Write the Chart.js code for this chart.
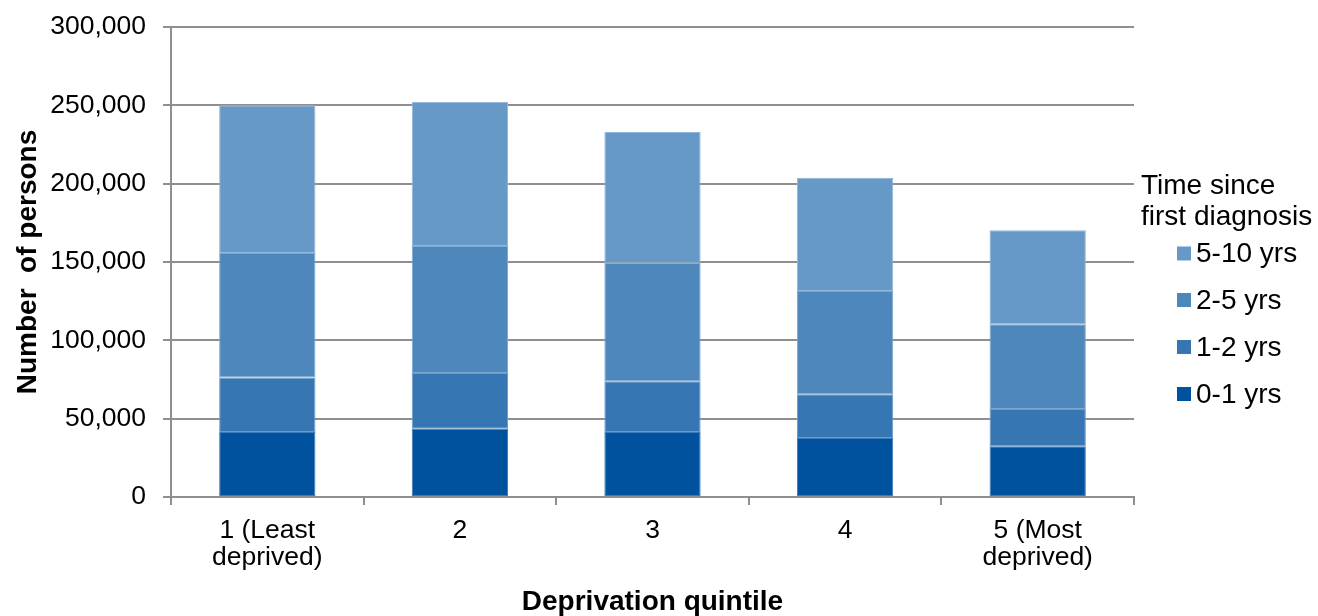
<!DOCTYPE html>
<html>
<head>
<meta charset="utf-8">
<script src="https://cdn.jsdelivr.net/npm/chart.js@4/dist/chart.umd.min.js"></script>
<style>
  html, body { margin: 0; padding: 0; background: #fff; }
  #wrap { width: 1318px; height: 616px; position: relative; }
</style>
</head>
<body>
<div id="wrap"><canvas id="c" width="1318" height="616"></canvas></div>
<script>
const categories = [['1 (Least', 'deprived)'], '2', '3', '4', ['5 (Most', 'deprived)']];
const seriesNames = ['0-1 yrs', '1-2 yrs', '2-5 yrs', '5-10 yrs'];
const yrs0to1 = [41500, 43600, 41500, 37650, 32350];
const yrs1to2 = [34700, 35550, 32350, 27900, 23800];
const yrs2to5 = [79500, 81050, 75750, 65950, 54050];
const yrs5to10 = [94300, 91900, 83400, 72300, 60000];
const yTicks = [0, 50000, 100000, 150000, 200000, 250000, 300000];
const colors = ['#00529F', '#3677B3', '#4E87BC', '#6699C7'];
const edgeColors = ['#3d7cb8', '#6a9bc9', '#7ea7d0', '#93b7d8'];
const legendTitle = ['Time since', 'first diagnosis'];
const xTitle = 'Deprivation quintile';
const yTitle = 'Number  of persons';

const FONT = '"Liberation Sans", Arial, sans-serif';
const GRID = '#8f8f8f';

const values = [yrs0to1, yrs1to2, yrs2to5, yrs5to10];
const datasets = values.map((v, i) => ({
  label: seriesNames[i],
  data: v,
  backgroundColor: colors[i],
  borderColor: edgeColors[i],
  borderWidth: 1,
  borderSkipped: false,
  barPercentage: 0.5,
  categoryPercentage: 1.0
}));

const legendPlugin = {
  id: 'sideLegend',
  afterDraw(chart) {
    const ctx = chart.ctx;
    ctx.save();
    ctx.fillStyle = '#000';
    ctx.font = '28px ' + FONT;
    ctx.textAlign = 'left';
    ctx.textBaseline = 'alphabetic';
    ctx.fillText(legendTitle[0], 1141, 194);
    ctx.fillText(legendTitle[1], 1141, 225);
    const ds = chart.data.datasets.slice().reverse();
    const ys = [253.5, 300, 347, 394];
    ds.forEach((d, i) => {
      ctx.fillStyle = d.backgroundColor;
      ctx.fillRect(1177, ys[i] - 7, 14, 14);
      ctx.fillStyle = '#000';
      ctx.textBaseline = 'middle';
      ctx.fillText(d.label, 1196, ys[i] + 1);
    });
    ctx.restore();
  }
};

new Chart(document.getElementById('c'), {
  type: 'bar',
  data: { labels: categories, datasets },
  options: {
    responsive: false,
    animation: false,
    devicePixelRatio: 1,
    layout: { padding: { left: 0, right: 184, top: 27, bottom: 0 } },
    plugins: { legend: { display: false }, tooltip: { enabled: false } },
    scales: {
      x: {
        stacked: true,
        offset: true,
        grid: {
          offset: true,
          color: (c) => (c.index === categories.length ? GRID : 'rgba(0,0,0,0)'),
          tickColor: GRID,
          tickLength: 8,
          lineWidth: 2,
          drawOnChartArea: true
        },
        border: { color: GRID, width: 2 },
        ticks: {
          color: '#000',
          font: { size: 26.5, family: FONT, lineHeight: 1.02 },
          padding: 12,
          maxRotation: 0,
          autoSkip: false
        },
        title: {
          display: true,
          text: xTitle,
          color: '#000',
          font: { size: 28, weight: 'bold', family: FONT, lineHeight: 1.0 },
          padding: { top: 0, bottom: 0 }
        },
        afterFit(s) { s.height = 119; s.paddingLeft = 0; s.paddingRight = 0; }
      },
      y: {
        stacked: true,
        min: 0,
        max: 300000,
        afterBuildTicks(s) { s.ticks = yTicks.map(v => ({ value: v })); },
        grid: { color: GRID, tickColor: GRID, tickLength: 8, lineWidth: 2 },
        border: { color: GRID, width: 2 },
        ticks: {
          color: '#000',
          font: { size: 26.5, family: FONT },
          padding: 17,
          callback: (v) => Number(v).toLocaleString('en-US')
        },
        title: {
          display: true,
          text: yTitle,
          color: '#000',
          font: { size: 28, weight: 'bold', family: FONT },
          padding: { top: 11, bottom: 0 }
        },
        afterFit(s) { s.width = 171; s.paddingTop = 0; s.paddingBottom = 0; }
      }
    }
  },
  plugins: [legendPlugin]
});
</script>
</body>
</html>
